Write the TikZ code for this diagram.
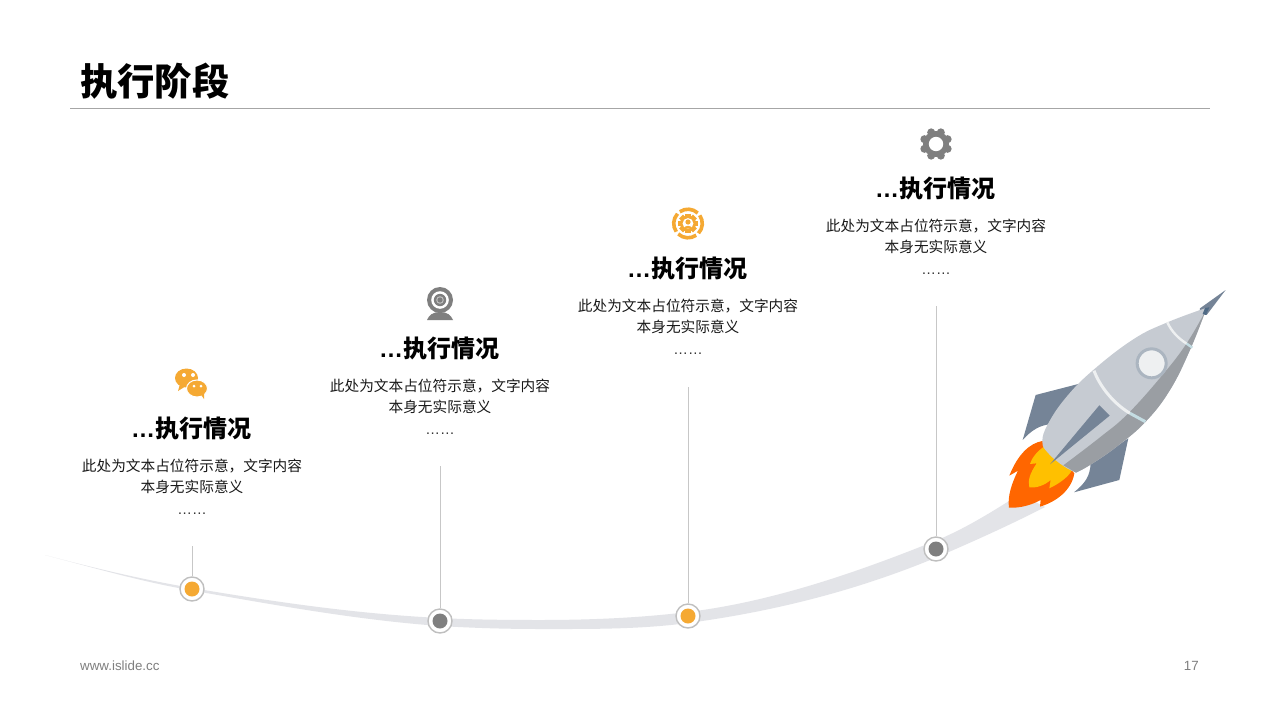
\documentclass[tikz,border=0pt]{standalone}
\usepackage{fontspec}
\setmainfont{Liberation Sans}
\newfontfamily\cjk{Noto Sans CJK SC}
\definecolor{accent}{HTML}{F5A933}
\definecolor{iconGray}{HTML}{7F7F7F}
\definecolor{trackGray}{HTML}{E3E4E8}
\definecolor{hull}{HTML}{C6CBD2}
\definecolor{hullDark}{HTML}{9A9EA3}
\definecolor{fin}{HTML}{758497}
\definecolor{finDark}{HTML}{4F6A85}
\definecolor{flame}{HTML}{FF6600}
\definecolor{flameIn}{HTML}{FFC000}
\definecolor{stripe}{HTML}{EEF0F1}
\definecolor{stripeBlue}{HTML}{C4DDE3}
\definecolor{windowRim}{HTML}{ABB5C0}
\tikzset{
  titletext/.style={font=\cjk\bfseries\fontsize{37.3}{44}\selectfont, inner sep=0pt, anchor=west},
  headtext/.style={font=\bfseries\fontsize{24}{30}\selectfont, inner sep=0pt},
  bodytext/.style={font=\cjk\fontsize{14.67}{20}\selectfont, inner sep=0pt, text=black!90},
  dotstext/.style={font=\fontsize{14.67}{20}\selectfont, inner sep=0pt, text=black!80},
  foottext/.style={font=\fontsize{13.33}{16}\selectfont, inner sep=0pt, text=iconGray},
  dotring/.style={circle, draw=black!25, line width=1.4pt, fill=white, minimum size=24pt, inner sep=0pt},
  dotcore/.style={circle, minimum size=15pt, inner sep=0pt},
  stem/.style={draw=black!22, line width=0.8pt},
}
\begin{document}
\begin{tikzpicture}[x=1pt, y=-1pt]
        \useasboundingbox [fill=white] (0,0) rectangle (1280,720);
        % title and footer
        \node [titletext] (title) at (80,81) {执行阶段};
        \coordinate (ruleL) at (70,108);
        \coordinate (ruleR) at (1210,108);
        \draw [black!35, line width=0.8pt] (ruleL) -- (ruleR);
        \node [foottext, anchor=west] (site) at (80,666) {www.islide.cc};
        \node [foottext, anchor=east] (page) at (1199,666) {17};
        % track
        \fill [trackGray] (45,555) .. controls (94,568) and (143,579.7) .. (192,588)
          .. controls (275,602) and (357,613.9) .. (440,618)
          .. controls (473,619.7) and (507,620) .. (540,620)
          .. controls (589,620) and (639,618) .. (688,612)
          .. controls (770,602) and (853,574) .. (935,541)
          .. controls (963,529.8) and (992,512) .. (1020,494)
          -- (1045,507) .. controls (1008,526) and (972,542) .. (935,558)
          .. controls (853,592) and (770,612) .. (688,623)
          .. controls (639,629.5) and (589,629) .. (540,629)
          .. controls (507,629) and (473,628) .. (440,626)
          .. controls (357,620) and (275,605) .. (192,590.5)
          .. controls (143,582) and (94,568) .. (45,555) -- cycle;
        % rocket
        \begin{scope}[shift={(990,280)}, x=0.3333pt, y=-0.3333pt]
          \fill [fin] (265,312) -- (137,345) -- (98,480) .. controls (125,450) and (150,435) .. (185,432) -- cycle;
          \fill [fin] (415,475) -- (388,600) -- (252,637) .. controls (285,610) and (300,590) .. (302,550) -- cycle;
          \fill [fin] (630,85) -- (707,30) -- (650,105) -- (630,100) -- cycle;
          \fill [flame] (157,483) .. controls (120,490) and (85,520) .. (58,587) -- (84,572) .. controls (65,610) and (52,650) .. (57,683)
            .. controls (90,685) and (125,675) .. (152,660) -- (150,680) .. controls (200,665) and (245,630) .. (253,580) -- (220,540) -- cycle;
          \fill [flameIn] (162,500) .. controls (140,515) and (125,535) .. (120,552) -- (140,550) .. controls (120,580) and (113,600) .. (118,622)
            .. controls (140,625) and (165,615) .. (182,600) -- (178,625) .. controls (210,610) and (235,590) .. (245,572) -- (195,530) -- cycle;
          \fill [hull] plot [smooth, tension=0.7] coordinates {(645,85) (530,128) (430,178) (310,270) (230,350) (175,430) (157,485) (175,520) (220,558) (258,578)}
            -- plot [smooth, tension=0.7] coordinates {(258,578) (300,555) (380,500) (467,425) (540,330) (600,210) (645,95)} -- cycle;
          \fill [hullDark] plot [smooth, tension=0.7] coordinates {(647,92) (590,190) (520,282) (415,400) (330,472) (220,556)}
            -- (258,578) -- plot [smooth, tension=0.7] coordinates {(258,578) (300,555) (380,500) (467,425) (540,330) (600,210) (647,92)} -- cycle;
          \draw [stripe, line width=2.4pt] (532,127) .. controls (545,155) and (565,175) .. (590,191);
          \draw [stripeBlue, line width=2.4pt] (590,191) -- (607,203);
          \draw [stripe, line width=3pt] (312,272) .. controls (330,320) and (370,370) .. (420,400);
          \draw [stripeBlue, line width=3pt] (420,400) -- (466,425);
          \fill [fin] (180,553) -- (328,376) -- (359,407) -- cycle;
          \fill [finDark] (645,84) -- (658,82) -- (648,105) -- (638,102) -- cycle;
          \node [circle, draw=windowRim, line width=3pt, fill=stripe, minimum size=29pt, inner sep=0pt] (window) at (485,250) {};
        \end{scope}
        % stages
        \foreach \i/\sx/\sy/\top/\dy/\col in {1/192/589/546/0/accent, 2/440/621/466/-80/iconGray, 3/688/616/387/-160/accent, 4/936/549/306/-240/iconGray} {
          \node [headtext] (head\i) at (\sx-1,428.5+\dy) {…{\cjk\bfseries 执行情况}};
          \node [bodytext] (bodyA\i) at (\sx,466.5+\dy) {此处为文本占位符示意，文字内容};
          \node [bodytext] (bodyB\i) at (\sx,487+\dy) {本身无实际意义};
          \node [dotstext] (more\i) at (\sx,514+\dy) {……};
          \coordinate (top\i) at (\sx,\top);
          \node [dotring] (ring\i) at (\sx,\sy) {};
          \node [dotcore, fill=\col] (core\i) at (ring\i) {};
          \draw [stem] (top\i) -- (ring\i);
        }
        % chat icon
        \fill [accent] (186.5,378) ellipse [x radius=11.5, y radius=9.5];
        \fill [accent] (180,384) -- (178,391) -- (186,386) -- cycle;
        \fill [accent, draw=white, line width=1pt] (197,388.5) ellipse [x radius=10.5, y radius=8.5];
        \fill [accent] (200,393) -- (204,399) -- (204,390) -- cycle;
        \foreach \ex/\ey/\er in {184/375/2, 193/375/2, 194/386/1.5, 201/386/1.5}
          \fill [white] (\ex,\ey) circle [radius=\er];
        % webcam icon
        \fill [iconGray] (427,320) .. controls (429,315) and (433,312) .. (440,312) .. controls (447,312) and (451,315) .. (453,320) -- cycle;
        \foreach \r/\c in {13/iconGray, 8.8/white, 6.2/iconGray, 3.8/black!25, 2.6/iconGray}
          \fill [\c] (440,300) circle [radius=\r];
        % target icon
        \foreach \a in {-35,55,145,235}
          \draw [accent, line width=3.6pt] ([shift={(\a:14.3)}]688,223.5) arc [start angle=\a, end angle=\a+78, radius=14.3];
        \foreach \a in {0,45,...,315}
          \fill [accent, rotate around={\a:(688,223.5)}] (685.2,213.7) rectangle (690.8,218);
        \fill [accent] (688,223.5) circle [radius=8];
        \fill [white] (688,223.5) circle [radius=5.4];
        \fill [accent] (688,222) circle [radius=2.6];
        \fill [accent] (683.5,228.5) .. controls (684.5,225) and (691.5,225) .. (692.5,228.5) -- cycle;
        % gear icon
        \foreach \a in {0,45,...,315}
          \fill [iconGray] (936,144) ++(\a+22.5:12.6) circle [radius=4];
        \fill [iconGray] (936,144) circle [radius=13];
        \fill [white] (936,144) circle [radius=7.2];
\end{tikzpicture}
\end{document}
